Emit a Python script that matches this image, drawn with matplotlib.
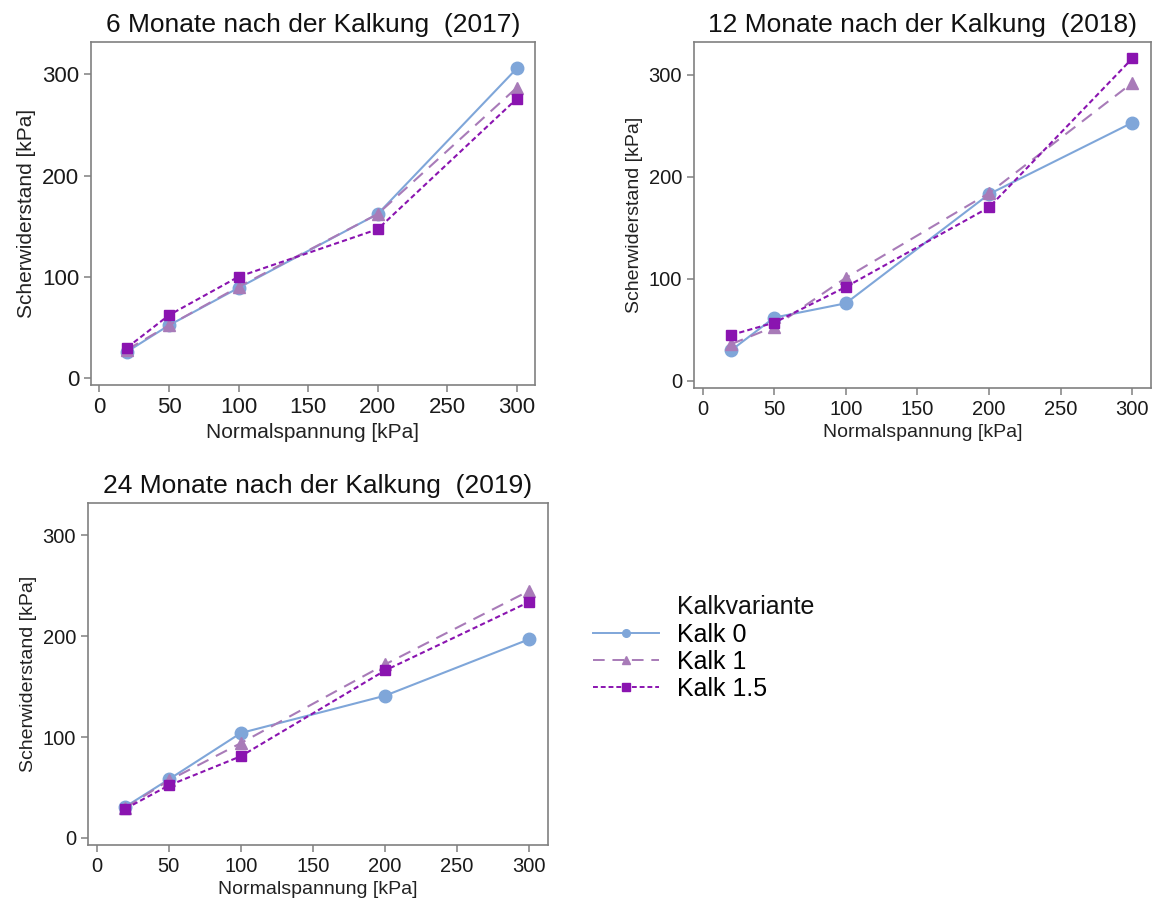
import matplotlib
matplotlib.use("Agg")
import matplotlib.pyplot as plt
from matplotlib import font_manager
from matplotlib.lines import Line2D

# Normalspannung [kPa]
x = [20, 50, 100, 200, 300]

titles = ["6 Monate nach der Kalkung  (2017)",
          "12 Monate nach der Kalkung  (2018)",
          "24 Monate nach der Kalkung  (2019)"]

# Scherwiderstand [kPa] per Kalkvariante
kalk0_2017 = [26, 52, 89, 162, 306]
kalk1_2017 = [28, 52, 90, 162, 287]
kalk15_2017 = [30, 62, 100, 147, 276]

kalk0_2018 = [30, 62, 76, 183, 253]
kalk1_2018 = [36, 53, 101, 184, 292]
kalk15_2018 = [45, 57, 92, 170, 316]

kalk0_2019 = [31, 58, 104, 141, 197]
kalk1_2019 = [30, 57, 94, 172, 245]
kalk15_2019 = [29, 52, 81, 166, 234]

labels = ["Kalk 0", "Kalk 1", "Kalk 1.5"]
colors = ["#7fa6d9", "#a87bb8", "#8a14b0"]
markers = ["o", "^", "s"]
styles = ["-", (0, (6, 4)), (0, (2.5, 1.5))]
msizes = [9, 8, 7.5]

data = [[kalk0_2017, kalk1_2017, kalk15_2017],
        [kalk0_2018, kalk1_2018, kalk15_2018],
        [kalk0_2019, kalk1_2019, kalk15_2019]]

plt.rcParams['font.family'] = ['Liberation Sans', 'DejaVu Sans']

# lower panels use a condensed face if one is around
installed = {f.name for f in font_manager.fontManager.ttflist}
if 'Liberation Sans Narrow' in installed:
    narrow = ['Liberation Sans Narrow', 'Liberation Sans']
    small_tick, small_lab = 16, 16.5
else:
    narrow = ['Liberation Sans', 'DejaVu Sans']
    small_tick, small_lab = 14.5, 14

fig = plt.figure(figsize=(11.54, 9.10), dpi=100)
W, H = 1154, 910
# box positions in pixels (left, top, right, bottom)
boxes = [(91, 42, 535, 385), (694, 42, 1151, 388), (88, 503, 548, 845)]
tick_fs = [16, small_tick, small_tick]
lab_fs = [15, small_lab, small_lab]
fams = [['Liberation Sans', 'DejaVu Sans'], narrow, narrow]

for i, (l, t, r, b) in enumerate(boxes):
    ax = fig.add_axes([l / W, 1 - b / H, (r - l) / W, (b - t) / H])
    for j in range(3):
        ax.plot(x, data[i][j], color=colors[j], linestyle=styles[j],
                marker=markers[j], markersize=msizes[j], linewidth=1.5,
                label=labels[j])
    ax.set_xlim(-6, 313)
    ax.set_ylim(-7, 332)
    ax.set_xticks([0, 50, 100, 150, 200, 250, 300])
    ax.set_yticks([0, 100, 200, 300])
    ax.set_xticklabels([str(v) for v in ax.get_xticks().astype(int)],
                       family=fams[i])
    ax.set_yticklabels([str(v) for v in ax.get_yticks().astype(int)],
                       family=fams[i])
    for s in ax.spines.values():
        s.set_color("#808080")
        s.set_linewidth(1.2)
    ax.tick_params(colors="#808080", labelcolor="#1a1a1a", length=5,
                   width=1.1, labelsize=tick_fs[i])
    ax.set_title(titles[i], fontsize=19, color="#111111", pad=7)
    ax.set_xlabel("Normalspannung [kPa]", fontsize=lab_fs[i],
                  family=fams[i], color="#222222", labelpad=4)
    ax.set_ylabel("Scherwiderstand [kPa]", fontsize=lab_fs[i],
                  family=fams[i], color="#222222", labelpad=4)

handles = [Line2D([], [], color=colors[j], linestyle=styles[j],
                  marker=markers[j], markersize=5.5, linewidth=1.4)
           for j in range(3)]
fig.text(677 / W, 1 - 607 / H, "Kalkvariante", fontsize=18,
         color="#111111", va="center", ha="left")
fig.legend(handles, labels, loc="upper left",
           bbox_to_anchor=(593 / W, 1 - 623 / H), frameon=False,
           borderaxespad=0, borderpad=0,
           fontsize=18, handlelength=2.65,
           labelspacing=0.12, handletextpad=0.7)

fig.savefig("out.png", dpi=100)
